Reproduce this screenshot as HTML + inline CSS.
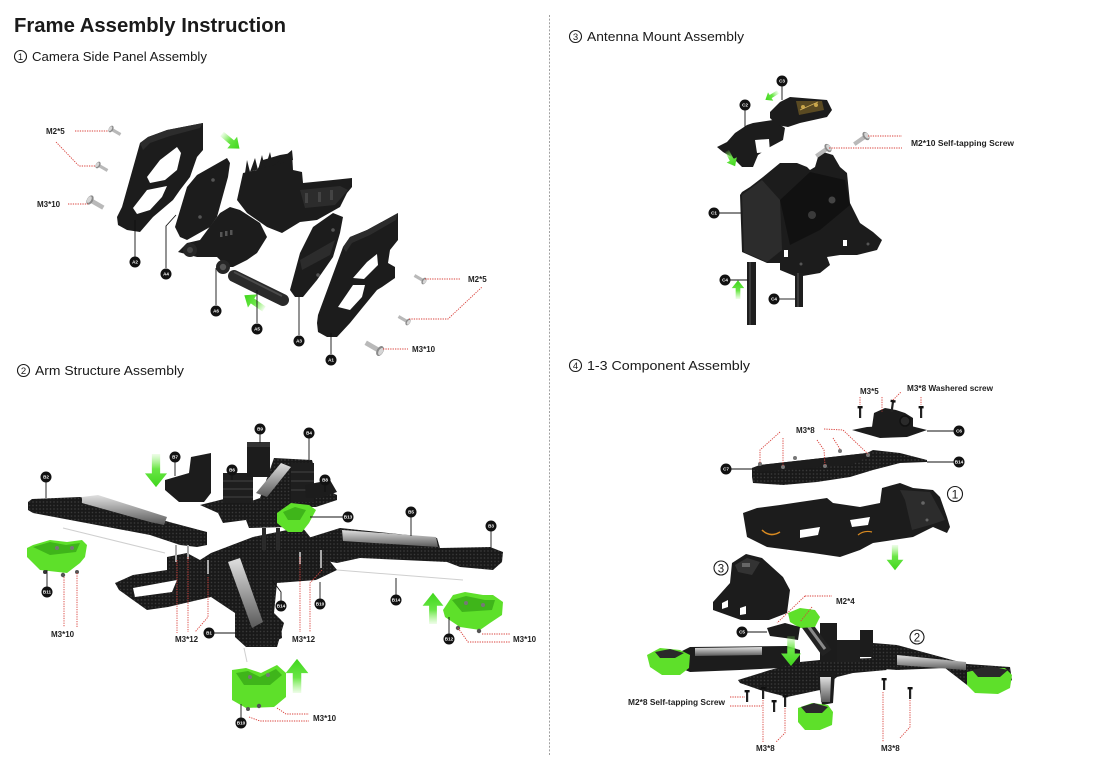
<!DOCTYPE html>
<html><head><meta charset="utf-8"><style>
html,body{margin:0;padding:0;background:#fff;}
svg{display:block;}
.hd{font-family:"Liberation Sans",sans-serif;fill:#1a1a1a;}
.ci{fill:none;stroke:#1a1a1a;stroke-width:1.1;}
.cn{font-family:"Liberation Sans",sans-serif;fill:#1a1a1a;text-anchor:middle;}
.lb{font-family:"Liberation Sans",sans-serif;font-weight:bold;font-size:8px;fill:#222;}
.d{stroke:#d9413b;stroke-width:0.9;stroke-dasharray:1.3 1.1;fill:none;}
.k{stroke:#111;stroke-width:0.9;fill:none;}
.p{fill:#1c1c1c;}
.p2{fill:#2c2c2c;}
.c{fill:url(#cf);}
.w{fill:#fff;}
.g{fill:#5ee02a;}
.g2{fill:#3fb51a;}
.ct{font-family:"Liberation Sans",sans-serif;font-weight:bold;font-size:4.6px;fill:#fff;text-anchor:middle;}
</style></head><body>
<svg width="1103" height="773" viewBox="0 0 1103 773">
<defs>
 <pattern id="cf" width="3.5" height="3.5" patternUnits="userSpaceOnUse"><rect width="3.5" height="3.5" fill="#191919"/><rect x="0.8" y="0.8" width="1.4" height="1.4" fill="#3a3a3a"/></pattern>
 <linearGradient id="al" x1="0" y1="0" x2="0" y2="1"><stop offset="0" stop-color="#e0e0e0"/><stop offset="0.5" stop-color="#9d9d9d"/><stop offset="1" stop-color="#5a5a5a"/></linearGradient>
 <linearGradient id="ga" x1="0" y1="0" x2="1" y2="0"><stop offset="0" stop-color="#8ef06a" stop-opacity="0.15"/><stop offset="0.45" stop-color="#6ae646"/><stop offset="1" stop-color="#3fd61c"/></linearGradient>
 <g id="arr"><polygon points="0,-3 14,-3 14,-8 24,0 14,8 14,3 0,3" fill="url(#ga)"/></g>
 <g id="scr"><rect x="0" y="-1.6" width="11" height="3.2" fill="#b9b9b9"/><ellipse cx="0" cy="0" rx="2.2" ry="3.6" fill="#8a8a8a"/><ellipse cx="-0.6" cy="0" rx="1.4" ry="2.6" fill="#d5d5d5"/></g>
 <g id="vs"><rect x="-1" y="0" width="2.2" height="11" fill="#222"/><rect x="-2.4" y="-1" width="5" height="2.4" fill="#111"/></g>
</defs>

<!-- divider -->
<line x1="549.5" y1="15" x2="549.5" y2="756" stroke="#a0a0a0" stroke-width="1" stroke-dasharray="2 1.6"/>

<!-- headings -->
<text class="hd" x="14" y="32" font-size="20.5" font-weight="bold" textLength="272" lengthAdjust="spacingAndGlyphs">Frame Assembly Instruction</text>
<circle class="ci" cx="20.5" cy="56.5" r="6"/><text class="cn" x="20.5" y="60" font-size="9.5">1</text>
<text class="hd" x="32" y="61" font-size="13" textLength="175" lengthAdjust="spacingAndGlyphs">Camera Side Panel Assembly</text>
<circle class="ci" cx="575.5" cy="36.5" r="6"/><text class="cn" x="575.5" y="40" font-size="9.5">3</text>
<text class="hd" x="587" y="41" font-size="13" textLength="157" lengthAdjust="spacingAndGlyphs">Antenna Mount Assembly</text>
<circle class="ci" cx="23.5" cy="370.5" r="6"/><text class="cn" x="23.5" y="374" font-size="9.5">2</text>
<text class="hd" x="35" y="375" font-size="13" textLength="149" lengthAdjust="spacingAndGlyphs">Arm Structure Assembly</text>
<circle class="ci" cx="575.5" cy="365.5" r="6"/><text class="cn" x="575.5" y="369" font-size="9.5">4</text>
<text class="hd" x="587" y="370" font-size="13" textLength="163" lengthAdjust="spacingAndGlyphs">1-3 Component Assembly</text>

<!-- ================= SECTION 1 ================= -->
<polygon class="p" points="117,217 122,207 140,143 148,137 167,130 203,123 203,150 197,157 190,177 180,190 173,200 153,217 140,232 127,230 118,225"/>
<polygon class="p2" points="140,143 148,137 167,130 203,123 200,128 170,136 150,143 143,150"/>
<polygon class="w" points="147,177 160,160 177,147 181,153 177,170 165,180 150,183"/>
<polygon class="w" points="133,208 147,190 167,186 162,197 150,210 137,214"/>
<polygon class="p" points="175,227 187,187 197,175 227,158 230,163 228,177 217,217 210,227 187,240 180,237"/>
<circle cx="213" cy="180" r="1.8" fill="#555"/><circle cx="200" cy="217" r="1.8" fill="#555"/>
<polygon class="p" points="237,200 243,173 257,170 263,160 280,155 292,153 293,170 302,172 303,183 333,180 352,178 352,187 347,193 340,207 317,220 300,222 282,233 267,227 247,213"/>
<polygon class="p" points="245,173 247,160 250,172 255,158 258,170 262,155 265,168 270,152 273,166 292,150 293,160"/>
<polygon class="p2" points="300,190 340,186 348,190 335,205 305,208"/>
<rect x="305" y="193" width="3" height="10" fill="#444"/><rect x="318" y="192" width="3" height="10" fill="#444"/><rect x="330" y="190" width="3" height="10" fill="#444"/>
<polygon class="p" points="178,252 187,243 200,240 220,213 230,207 240,210 260,223 267,237 257,253 247,260 233,267 227,267 217,257 197,257"/>
<rect x="220" y="232" width="2.5" height="5" fill="#555"/><rect x="225" y="231" width="2.5" height="5" fill="#555"/><rect x="230" y="230" width="2.5" height="5" fill="#555"/>
<circle cx="190" cy="250" r="7" fill="#262626"/><circle cx="190" cy="250" r="3" fill="#444"/>
<circle cx="223" cy="267" r="7" fill="#262626"/><circle cx="223" cy="267" r="3.2" fill="#555"/>
<line x1="234" y1="276" x2="283" y2="300" stroke="#2a2a2a" stroke-width="12" stroke-linecap="round"/>
<line x1="234" y1="272" x2="282" y2="296" stroke="#4a4a4a" stroke-width="2"/>
<polygon class="p" points="290,290 300,253 313,227 333,213 343,217 340,233 333,257 317,280 303,297 295,297"/>
<polygon class="p2" points="300,260 335,240 330,255 302,270"/>
<circle cx="333" cy="230" r="1.8" fill="#555"/><circle cx="318" cy="275" r="1.8" fill="#555"/>
<polygon class="p" points="317,323 318,315 343,247 350,237 367,230 398,213 398,240 390,250 388,263 395,267 395,278 382,287 377,290 363,307 350,323 337,337 327,337 318,332"/>
<polygon class="p2" points="343,247 350,237 367,230 398,213 396,220 370,235 352,243 346,252"/>
<polygon class="w" points="338,307 353,285 365,285 362,297 350,310"/>
<polygon class="w" points="353,278 367,262 377,254 378,265 364,279"/>
<use href="#arr" transform="translate(222,134) rotate(40) scale(0.95)"/>
<use href="#arr" transform="translate(264,309) rotate(215) scale(1)"/>
<line class="k" x1="135" y1="220" x2="135" y2="257"/>
<g transform="translate(135,262)"><circle r="5.5" fill="#111"/><text class="ct" y="1.6">A2</text></g>
<polyline class="k" points="166,268 166,226 176,215"/>
<g transform="translate(166,274)"><circle r="5.5" fill="#111"/><text class="ct" y="1.6">A4</text></g>
<line class="k" x1="216" y1="305" x2="216" y2="268"/>
<g transform="translate(216,311)"><circle r="5.5" fill="#111"/><text class="ct" y="1.6">A6</text></g>
<line class="k" x1="257" y1="323" x2="257" y2="290"/>
<g transform="translate(257,329)"><circle r="5.5" fill="#111"/><text class="ct" y="1.6">A5</text></g>
<line class="k" x1="299" y1="335" x2="299" y2="297"/>
<g transform="translate(299,341)"><circle r="5.5" fill="#111"/><text class="ct" y="1.6">A3</text></g>
<line class="k" x1="331" y1="354" x2="331" y2="333"/>
<g transform="translate(331,360)"><circle r="5.5" fill="#111"/><text class="ct" y="1.6">A1</text></g>
<use href="#scr" transform="translate(111,129) rotate(30)"/>
<use href="#scr" transform="translate(98,165) rotate(30)"/>
<use href="#scr" transform="translate(90,200) rotate(30) scale(1.4)"/>
<line class="d" x1="75" y1="131" x2="108" y2="131"/>
<polyline class="d" points="56,142 79,166 96,166"/>
<line class="d" x1="68" y1="204" x2="88" y2="204"/>
<text class="lb" x="46" y="134">M2*5</text>
<text class="lb" x="37" y="207">M3*10</text>
<use href="#scr" transform="translate(424,281) rotate(210)"/>
<use href="#scr" transform="translate(408,322) rotate(210)"/>
<use href="#scr" transform="translate(380,351) rotate(210) scale(1.5)"/>
<line class="d" x1="425" y1="279" x2="460" y2="279"/>
<polyline class="d" points="409,319 448,319 482,287"/>
<line class="d" x1="383" y1="349" x2="408" y2="349"/>
<text class="lb" x="468" y="282">M2*5</text>
<text class="lb" x="412" y="352">M3*10</text>

<!-- ================= SECTION 3 ================= -->
<polygon class="p" points="740,195 742,252 767,263 780,263 780,270 797,277 820,273 830,265 827,257 840,255 857,255 877,250 882,240 873,232 860,223 850,203 847,173 840,167 833,155 823,152 818,157 815,167 810,170 807,167 797,163 780,163 763,177 750,187 742,192"/>
<polygon class="p2" points="742,195 762,180 780,200 782,250 767,262 744,252"/>
<polygon fill="#111" points="780,200 810,172 845,180 850,205 820,230 790,245"/>
<circle cx="812" cy="215" r="4" fill="#3a3a3a"/><circle cx="832" cy="200" r="3.5" fill="#444"/>
<rect x="784" y="250" width="4" height="7" fill="#fff"/><rect x="843" y="240" width="4" height="6" fill="#fff"/>
<circle cx="801" cy="264" r="1.5" fill="#555"/><circle cx="868" cy="244" r="1.5" fill="#555"/>
<polygon class="p" points="717,147 727,142 735,133 747,125 753,123 773,120 785,128 783,140 770,147 758,155 753,167 742,167 733,158 723,152"/>
<polygon class="w" points="755,140 769,139 770,152 757,153"/>
<polygon class="p" points="770,112 780,102 790,97 827,100 832,110 827,117 800,123 788,127 777,125 770,118"/>
<polygon fill="#5a4a22" points="796,101 822,101 824,110 799,115"/>
<circle cx="803" cy="107" r="2" fill="#c9a64a"/><circle cx="816" cy="105" r="2" fill="#c9a64a"/>
<line x1="800" y1="110" x2="818" y2="102" stroke="#d4b25a" stroke-width="0.8"/>
<rect x="747" y="262" width="9" height="63" fill="#1e1e1e"/><rect x="749" y="262" width="2" height="63" fill="#3a3a3a"/>
<rect x="795" y="273" width="8" height="34" fill="#1e1e1e"/><rect x="797" y="273" width="2" height="34" fill="#3a3a3a"/>
<use href="#scr" transform="translate(866,136) rotate(145) scale(1.3)"/>
<use href="#scr" transform="translate(828,148) rotate(145) scale(1.3)"/>
<line class="d" x1="868" y1="136" x2="902" y2="136"/>
<line class="d" x1="829" y1="148" x2="902" y2="148"/>
<text class="lb" x="911" y="146" textLength="103" lengthAdjust="spacingAndGlyphs">M2*10 Self-tapping Screw</text>
<use href="#arr" transform="translate(778,92) rotate(148) scale(0.62)"/>
<use href="#arr" transform="translate(727,151) rotate(62) scale(0.72)"/>
<use href="#arr" transform="translate(738,299) rotate(-90) scale(0.78)"/>
<line class="k" x1="782" y1="86" x2="782" y2="100"/>
<g transform="translate(782,81)"><circle r="5.5" fill="#111"/><text class="ct" y="1.6">C3</text></g>
<line class="k" x1="745" y1="110" x2="745" y2="127"/>
<g transform="translate(745,105)"><circle r="5.5" fill="#111"/><text class="ct" y="1.6">C2</text></g>
<line class="k" x1="719" y1="213" x2="741" y2="213"/>
<g transform="translate(714,213)"><circle r="5.5" fill="#111"/><text class="ct" y="1.6">C1</text></g>
<line class="k" x1="730" y1="280" x2="748" y2="280"/>
<g transform="translate(725,280)"><circle r="5.5" fill="#111"/><text class="ct" y="1.6">C4</text></g>
<line class="k" x1="779" y1="299" x2="795" y2="299"/>
<g transform="translate(774,299)"><circle r="5.5" fill="#111"/><text class="ct" y="1.6">C4</text></g>

<!-- ================= SECTION 2 ================= -->
<line x1="63" y1="528" x2="165" y2="553" stroke="#cfcfcf" stroke-width="1"/>
<line x1="337" y1="570" x2="463" y2="580" stroke="#cfcfcf" stroke-width="1"/>
<line x1="244" y1="648" x2="247" y2="662" stroke="#cfcfcf" stroke-width="1"/>
<polygon class="c" points="115,583 133,575 167,570 167,557 187,553 200,560 211,553 253,537 302,527 337,570 316,580 277,583 274,613 284,623 277,647 253,647 235,637 235,613 211,597 168,607 147,610 119,590"/>
<polygon class="w" points="133,588 177,580 172,592 135,597"/>
<polygon class="c" points="225,560 253,557 267,607 281,620 282,638 263,647 246,647 235,637 237,620 246,613 225,567"/>
<polygon fill="url(#al)" points="228,562 240,558 263,622 252,628"/>
<polygon class="c" points="292,543 340,528 437,538 440,548 490,547 503,552 502,562 493,570 460,567 447,562 360,558 337,563 293,555"/>
<polygon fill="url(#al)" points="342,530 436,537 438,547 343,541"/>
<polygon class="c" points="28,502 32,499 80,497 173,523 207,532 207,545 197,547 180,545 150,535 33,513 28,510"/>
<polygon fill="url(#al)" points="82,497 98,495 167,517 164,525 150,522 82,503"/>
<rect x="175" y="545" width="2" height="17" fill="#aaa"/><rect x="187" y="545" width="2" height="14" fill="#aaa"/><rect x="207" y="560" width="2" height="14" fill="#aaa"/>
<rect x="299" y="552" width="2" height="12" fill="#aaa"/><rect x="320" y="550" width="2" height="18" fill="#aaa"/>
<rect x="262" y="528" width="4" height="22" fill="#2a2a2a"/><rect x="276" y="528" width="4" height="22" fill="#2a2a2a"/>
<polygon class="c" points="200,505 228,498 246,503 260,498 274,458 312,460 314,467 305,480 337,495 337,500 316,507 293,507 288,527 249,528 246,520 223,523 218,513"/>
<polygon fill="url(#al)" points="256,493 281,463 291,467 267,497"/>
<polygon class="p" points="165,480 189,473 191,457 211,453 211,493 204,502 179,502 165,490"/>
<rect x="223" y="473" width="30" height="30" fill="#1e1e1e"/>
<line x1="223" y1="481" x2="253" y2="481" stroke="#444" stroke-width="1"/><line x1="223" y1="489" x2="253" y2="489" stroke="#444" stroke-width="1"/><line x1="223" y1="497" x2="253" y2="497" stroke="#444" stroke-width="1"/>
<rect x="247" y="442" width="23" height="35" fill="#1c1c1c"/><rect x="247" y="442" width="23" height="5" fill="#333"/>
<rect x="291" y="463" width="23" height="39" fill="#1e1e1e"/>
<line x1="291" y1="472" x2="314" y2="472" stroke="#444"/><line x1="291" y1="481" x2="314" y2="481" stroke="#444"/><line x1="291" y1="490" x2="314" y2="490" stroke="#444"/>
<polygon class="p" points="305,485 330,480 337,492 320,498 306,498"/>
<polygon class="g" points="277,513 291,503 309,505 316,510 309,523 302,532 288,532 277,523"/>
<polygon class="g2" points="283,512 295,507 306,510 300,520 288,520"/>
<polygon class="g" points="27,548 33,545 50,540 67,542 82,540 87,545 85,557 80,563 67,573 40,570 27,557"/>
<polygon class="g2" points="33,547 50,542 66,545 80,543 76,552 50,555"/>
<circle cx="57" cy="548" r="2" fill="#777"/><circle cx="72" cy="548" r="2" fill="#777"/>
<circle cx="45" cy="572" r="2" fill="#333"/><circle cx="63" cy="575" r="2.2" fill="#555"/><circle cx="77" cy="572" r="2" fill="#555"/>
<polygon class="g" points="443,610 453,595 465,592 483,595 493,595 503,602 502,615 490,623 480,630 460,627 445,617"/>
<polygon class="g2" points="452,600 466,596 485,600 495,600 492,610 462,612"/>
<circle cx="466" cy="603" r="2" fill="#777"/><circle cx="483" cy="605" r="2" fill="#777"/>
<circle cx="458" cy="628" r="2.2" fill="#555"/><circle cx="479" cy="631" r="2.2" fill="#555"/>
<polygon class="g" points="232,670 246,668 261,673 277,665 286,673 286,697 274,707 246,708 232,700"/>
<polygon class="g2" points="236,673 248,671 260,677 276,669 282,675 270,685 244,685"/>
<circle cx="250" cy="677" r="2" fill="#777"/><circle cx="268" cy="675" r="2" fill="#777"/>
<circle cx="248" cy="709" r="2" fill="#555"/><circle cx="259" cy="706" r="2.2" fill="#555"/>
<use href="#arr" transform="translate(156,454) rotate(90) scale(1.38)"/>
<use href="#arr" transform="translate(433,624) rotate(-90) scale(1.3)"/>
<use href="#arr" transform="translate(297,693) rotate(-90) scale(1.42)"/>
<line class="k" x1="46" y1="482" x2="46" y2="498"/>
<g transform="translate(46,477)"><circle r="5.5" fill="#111"/><text class="ct" y="1.6">B2</text></g>
<line class="k" x1="175" y1="462" x2="175" y2="476"/>
<g transform="translate(175,457)"><circle r="5.5" fill="#111"/><text class="ct" y="1.6">B7</text></g>
<line class="k" x1="232" y1="475" x2="232" y2="480"/>
<g transform="translate(232,470)"><circle r="5.5" fill="#111"/><text class="ct" y="1.6">B6</text></g>
<line class="k" x1="260" y1="434" x2="260" y2="443"/>
<g transform="translate(260,429)"><circle r="5.5" fill="#111"/><text class="ct" y="1.6">B9</text></g>
<line class="k" x1="309" y1="438" x2="309" y2="460"/>
<g transform="translate(309,433)"><circle r="5.5" fill="#111"/><text class="ct" y="1.6">B4</text></g>
<line class="k" x1="325" y1="485" x2="325" y2="492"/>
<g transform="translate(325,480)"><circle r="5.5" fill="#111"/><text class="ct" y="1.6">B8</text></g>
<line class="k" x1="343" y1="517" x2="310" y2="517"/>
<g transform="translate(348,517)"><circle r="5.5" fill="#111"/><text class="ct" y="1.6">B13</text></g>
<line class="k" x1="411" y1="517" x2="411" y2="536"/>
<g transform="translate(411,512)"><circle r="5.5" fill="#111"/><text class="ct" y="1.6">B5</text></g>
<line class="k" x1="491" y1="531" x2="491" y2="548"/>
<g transform="translate(491,526)"><circle r="5.5" fill="#111"/><text class="ct" y="1.6">B3</text></g>
<line class="k" x1="214" y1="633" x2="235" y2="633"/>
<g transform="translate(209,633)"><circle r="5.5" fill="#111"/><text class="ct" y="1.6">B1</text></g>
<polyline class="k" points="281,601 281,592 272,580"/>
<g transform="translate(281,606)"><circle r="5.5" fill="#111"/><text class="ct" y="1.6">B14</text></g>
<line class="k" x1="320" y1="599" x2="320" y2="582"/>
<g transform="translate(320,604)"><circle r="5.5" fill="#111"/><text class="ct" y="1.6">B10</text></g>
<line class="k" x1="396" y1="595" x2="396" y2="578"/>
<g transform="translate(396,600)"><circle r="5.5" fill="#111"/><text class="ct" y="1.6">B14</text></g>
<line class="k" x1="47" y1="587" x2="47" y2="570"/>
<g transform="translate(47,592)"><circle r="5.5" fill="#111"/><text class="ct" y="1.6">B11</text></g>
<line class="k" x1="449" y1="634" x2="449" y2="617"/>
<g transform="translate(449,639)"><circle r="5.5" fill="#111"/><text class="ct" y="1.6">B12</text></g>
<line class="k" x1="241" y1="718" x2="241" y2="704"/>
<g transform="translate(241,723)"><circle r="5.5" fill="#111"/><text class="ct" y="1.6">B10</text></g>
<line class="d" x1="64" y1="577" x2="64" y2="627"/><line class="d" x1="77" y1="573" x2="77" y2="627"/>
<text class="lb" x="51" y="637">M3*10</text>
<line class="d" x1="177" y1="560" x2="177" y2="633"/><line class="d" x1="188" y1="557" x2="188" y2="632"/>
<polyline class="d" points="208,577 208,617 195,632"/>
<text class="lb" x="175" y="642">M3*12</text>
<line class="d" x1="300" y1="557" x2="300" y2="632"/>
<polyline class="d" points="322,570 310,583 310,632"/>
<text class="lb" x="292" y="642">M3*12</text>
<line class="d" x1="482" y1="634" x2="510" y2="634"/>
<polyline class="d" points="458,628 468,642 510,642"/>
<text class="lb" x="513" y="642">M3*10</text>
<polyline class="d" points="277,708 286,714 309,714"/>
<polyline class="d" points="249,717 260,721 309,721"/>
<text class="lb" x="313" y="721">M3*10</text>

<!-- ================= SECTION 4 ================= -->
<polygon class="p" points="852,430 867,427 907,425 927,430 907,437 880,438"/>
<polygon class="p" points="872,427 874,413 885,408 896,410 905,413 913,418 913,430"/>
<circle cx="905" cy="421" r="5" fill="#2a2a2a" stroke="#111" stroke-width="1.5"/>
<use href="#vs" transform="translate(860,407)"/>
<use href="#vs" transform="translate(893,401) rotate(8)"/>
<use href="#vs" transform="translate(921,407)"/>
<line class="d" x1="860" y1="397" x2="860" y2="405"/>
<line class="d" x1="882" y1="397" x2="882" y2="412"/>
<line class="d" x1="893" y1="400" x2="901" y2="392"/>
<line class="d" x1="921" y1="397" x2="921" y2="405"/>
<text class="lb" x="860" y="394">M3*5</text>
<text class="lb" x="907" y="391" textLength="86" lengthAdjust="spacingAndGlyphs">M3*8 Washered screw</text>
<line class="k" x1="927" y1="431" x2="954" y2="431"/>
<g transform="translate(959,431)"><circle r="5.5" fill="#111"/><text class="ct" y="1.6">C6</text></g>
<polygon class="c" points="752,468 760,465 867,453 873,450 900,453 927,460 927,462 900,463 873,470 850,477 817,482 783,485 753,483 752,477"/>
<polygon class="p" points="752,468 760,465 867,453 873,455 850,465 760,472"/>
<circle cx="760" cy="464" r="2" fill="#777"/><circle cx="783" cy="467" r="2" fill="#777"/><circle cx="795" cy="458" r="2" fill="#777"/>
<circle cx="825" cy="466" r="2" fill="#777"/><circle cx="840" cy="451" r="2" fill="#777"/><circle cx="868" cy="455" r="2" fill="#777"/>
<line class="k" x1="731" y1="469" x2="752" y2="469"/>
<g transform="translate(726,469)"><circle r="5.5" fill="#111"/><text class="ct" y="1.6">C7</text></g>
<line class="k" x1="927" y1="462" x2="954" y2="462"/>
<g transform="translate(959,462)"><circle r="5.5" fill="#111"/><text class="ct" y="1.6">B14</text></g>
<polyline class="d" points="780,432 760,450 760,463"/>
<line class="d" x1="783" y1="438" x2="783" y2="466"/>
<polyline class="d" points="817,440 824,450 825,465"/>
<line class="d" x1="833" y1="438" x2="840" y2="449"/>
<polyline class="d" points="824,429 843,430 868,454"/>
<text class="lb" x="796" y="433">M3*8</text>
<polygon class="p" points="743,513 757,508 780,505 800,502 827,498 833,503 860,507 880,503 882,488 900,483 913,488 933,490 940,497 947,517 950,527 947,533 933,527 913,537 893,540 873,543 860,550 840,557 813,553 790,550 767,547 747,537"/>
<polygon class="p2" points="900,490 930,492 945,520 930,525 912,530 905,500"/>
<polygon class="w" points="800,530 820,527 818,535 800,538"/>
<polygon class="w" points="850,520 870,517 868,525 852,527"/>
<path d="M762,530 q8,8 18,2" stroke="#d98a20" stroke-width="1.5" fill="none"/>
<path d="M858,535 q6,-5 14,-3" stroke="#d98a20" stroke-width="1.2" fill="none"/>
<circle cx="923" cy="503" r="1.8" fill="#666"/><circle cx="927" cy="520" r="1.5" fill="#666"/>
<circle class="ci" cx="955" cy="494" r="7.5"/><text class="cn" x="955" y="498.5" font-size="12">1</text>
<use href="#arr" transform="translate(895,545) rotate(90) scale(1.05)"/>
<polygon class="p" points="732,563 746,554 762,558 783,577 790,590 787,613 769,620 741,620 713,610 713,602 730,583"/>
<polygon fill="#333" points="735,565 747,558 760,562 752,575 738,572"/>
<rect x="742" y="563" width="8" height="4" fill="#666"/>
<polygon class="w" points="722,603 728,600 728,607 722,609"/><polygon class="w" points="740,608 746,606 746,614 740,615"/>
<circle class="ci" cx="721" cy="568" r="7"/><text class="cn" x="721" y="572.5" font-size="11.5">3</text>
<polygon class="p" points="680,652 690,647 787,646 800,650 800,667 740,670 690,672 680,668"/>
<polygon fill="url(#al)" points="695,648 762,647 762,655 695,656"/>
<polygon class="g" points="647,655 660,648 680,650 690,655 689,668 680,675 662,675 650,667"/>
<polygon fill="#2a2a2a" points="655,652 670,649 684,653 675,658 660,658"/>
<polygon class="c" points="873,643 897,645 967,664 1010,667 1012,680 1000,690 967,685 945,668 897,670 870,668"/>
<polygon fill="url(#al)" points="897,655 966,662 966,670 897,665"/>
<polygon class="g" points="967,672 985,668 1005,668 1012,675 1010,688 998,694 975,693 967,685"/>
<polygon fill="#2a2a2a" points="972,670 990,666 1008,670 1000,677 978,677"/>
<polygon class="c" points="738,680 770,670 800,662 820,660 873,658 887,670 853,673 837,677 820,690 787,697 760,690 740,683"/>
<polygon class="p" points="817,672 835,672 833,703 822,705"/>
<polygon fill="url(#al)" points="820,677 831,677 830,702 821,702"/>
<polygon class="g" points="798,708 812,703 828,705 833,712 832,725 820,730 805,730 798,722"/>
<polygon fill="#2a2a2a" points="801,707 814,703 828,707 822,713 806,713"/>
<rect x="820" y="623" width="17" height="39" fill="#1c1c1c"/>
<rect x="837" y="640" width="23" height="22" fill="#1e1e1e"/>
<rect x="860" y="630" width="13" height="27" fill="#1c1c1c"/>
<line x1="801" y1="617" x2="827" y2="653" stroke="#222" stroke-width="11"/>
<line x1="803" y1="619" x2="825" y2="649" stroke="#8a8a8a" stroke-width="3"/>
<polygon class="g" points="788,613 800,608 815,610 820,617 815,627 800,628 790,622"/>
<polygon class="p" points="767,628 785,623 800,627 798,640 785,638 770,636"/>
<line class="k" x1="747" y1="632" x2="767" y2="632"/>
<g transform="translate(742,632)"><circle r="5.5" fill="#111"/><text class="ct" y="1.6">C5</text></g>
<use href="#arr" transform="translate(791,636) rotate(90) scale(1.25)"/>
<circle class="ci" cx="917" cy="637" r="7"/><text class="cn" x="917" y="641.5" font-size="11.5">2</text>
<line class="d" x1="805" y1="596" x2="832" y2="596"/>
<line class="d" x1="805" y1="596" x2="777" y2="623"/>
<line class="d" x1="812" y1="607" x2="800" y2="622"/>
<text class="lb" x="836" y="604">M2*4</text>
<use href="#vs" transform="translate(747,691)"/>
<use href="#vs" transform="translate(763,688)"/>
<use href="#vs" transform="translate(774,701)"/>
<use href="#vs" transform="translate(785,696)"/>
<use href="#vs" transform="translate(884,679)"/>
<use href="#vs" transform="translate(910,688)"/>
<line class="d" x1="730" y1="697" x2="745" y2="697"/>
<line class="d" x1="730" y1="706" x2="762" y2="706"/>
<text class="lb" x="628" y="705" textLength="97" lengthAdjust="spacingAndGlyphs">M2*8 Self-tapping Screw</text>
<line class="d" x1="763" y1="700" x2="763" y2="742"/>
<polyline class="d" points="785,708 785,733 776,742"/>
<text class="lb" x="756" y="751">M3*8</text>
<line class="d" x1="883" y1="692" x2="883" y2="742"/>
<polyline class="d" points="910,700 910,727 900,738"/>
<text class="lb" x="881" y="751">M3*8</text>
</svg>
</body></html>
